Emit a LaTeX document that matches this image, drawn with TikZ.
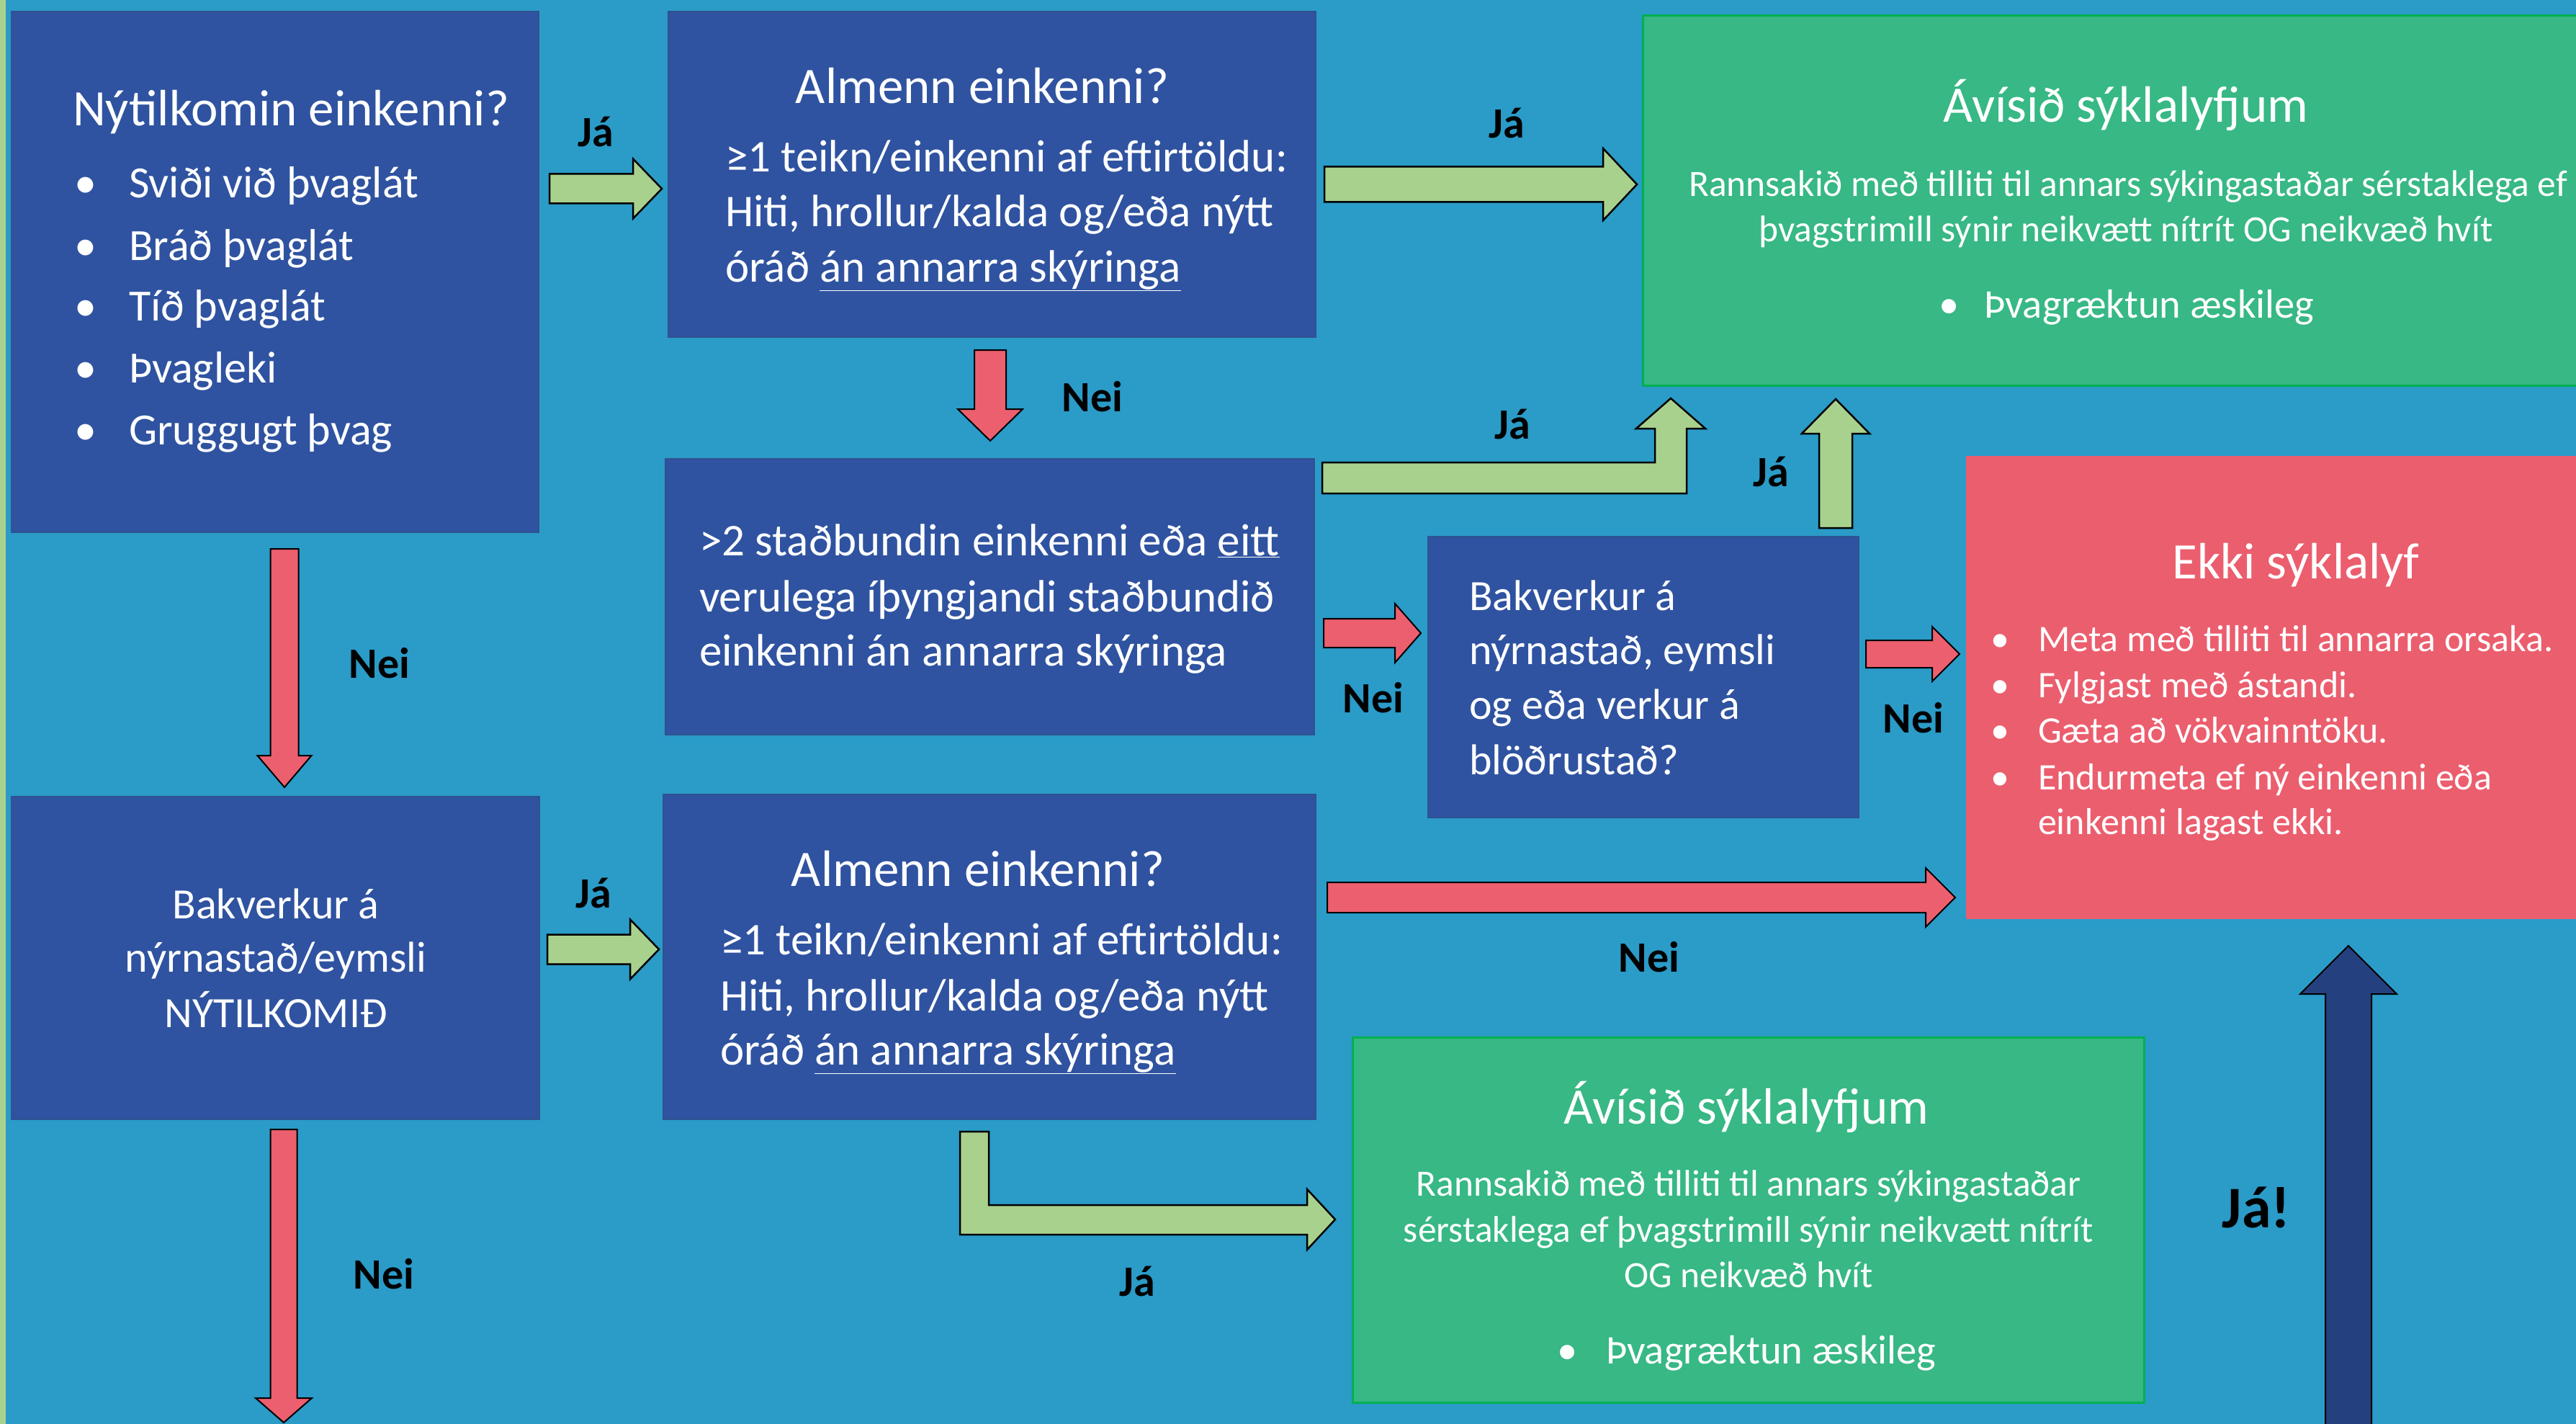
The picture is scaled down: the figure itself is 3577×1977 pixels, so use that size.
\documentclass[tikz,border=0pt]{standalone}
\usepackage{fontspec}
\setmainfont{Carlito}
\usetikzlibrary{calc}
\definecolor{bg}{HTML}{2B9BC8}
\definecolor{strip}{HTML}{A9D18E}
\definecolor{boxblue}{HTML}{2F53A0}
\definecolor{boxedge}{HTML}{2F528F}
\definecolor{gbox}{HTML}{37B884}
\definecolor{gedge}{HTML}{00B050}
\definecolor{rbox}{HTML}{EB5E6E}
\definecolor{larrow}{HTML}{A9D18E}
\definecolor{rarrow}{HTML}{EC5F6F}
\definecolor{navy}{HTML}{24407F}
\tikzset{
  boxbase/.style={anchor=north west, inner sep=0pt, outer sep=0pt},
  bbox/.style={boxbase, fill=boxblue, draw=boxedge, line width=1.5pt},
  gbx/.style={boxbase, fill=gbox, draw=gedge, line width=3pt},
  rbx/.style={boxbase, fill=rbox},
  wt/.style={text=white, inner sep=0pt, outer sep=0pt},
  ttl/.style={wt, anchor=base, font=\fontsize{71}{85}\selectfont},
  fA/.style={wt, anchor=base west, font=\fontsize{62}{74}\selectfont},
  fB/.style={wt, anchor=base west, font=\fontsize{63}{75}\selectfont},
  fD/.style={wt, anchor=base west, font=\fontsize{60}{72}\selectfont},
  fE/.style={wt, anchor=base, font=\fontsize{60}{72}\selectfont},
  fG/.style={wt, anchor=base, font=\fontsize{51.5}{62}\selectfont},
  fGb/.style={wt, anchor=base west, font=\fontsize{56.5}{68}\selectfont},
  fR/.style={wt, anchor=base west, font=\fontsize{52}{62}\selectfont},
  bulA/.style={wt, anchor=base, font=\fontsize{62}{74}\selectfont},
  bulG/.style={wt, anchor=base, font=\fontsize{56.5}{68}\selectfont},
  bulR/.style={wt, anchor=base, font=\fontsize{52}{62}\selectfont},
  lbl/.style={text=black, inner sep=0pt, font=\bfseries\fontsize{60}{72}\selectfont},
  garr/.style={fill=larrow, draw=black, line width=2.5pt, line join=miter},
  rarr/.style={fill=rarrow, draw=black, line width=2pt, line join=miter},
  narr/.style={fill=navy, draw=black, line width=2pt, line join=miter},
}
% horizontal block arrow: style, from, to, shaft half, head half, head length
\newcommand\harr[6]{\draw[#1] let \p1=(#2), \p2=(#3) in
  (\x1,\y1+#4) -- (\x2-#6,\y1+#4) -- (\x2-#6,\y1+#5) -- (\x2,\y1) --
  (\x2-#6,\y1-#5) -- (\x2-#6,\y1-#4) -- (\x1,\y1-#4) -- cycle;}
% downward block arrow
\newcommand\darr[6]{\draw[#1] let \p1=(#2), \p2=(#3) in
  (\x1-#4,\y1) -- (\x1-#4,\y2+#6) -- (\x1-#5,\y2+#6) -- (\x1,\y2) --
  (\x1+#5,\y2+#6) -- (\x1+#4,\y2+#6) -- (\x1+#4,\y1) -- cycle;}
% upward block arrow
\newcommand\uarr[6]{\draw[#1] let \p1=(#2), \p2=(#3) in
  (\x1-#4,\y1) -- (\x1-#4,\y2-#6) -- (\x1-#5,\y2-#6) -- (\x1,\y2) --
  (\x1+#5,\y2-#6) -- (\x1+#4,\y2-#6) -- (\x1+#4,\y1) -- cycle;}
\begin{document}
\begin{tikzpicture}[x=1pt,y=-1pt]
\useasboundingbox (0,0) rectangle (3577,1977);
\clip (0,0) rectangle (3577,1977);
\fill[bg] (0,0) rectangle (3577,1977);
\fill[strip] (0,0) rectangle (8,1977);

% ---------- boxes ----------
\node[bbox, minimum width=732pt, minimum height=723pt] (A) at (16,16) {};
\node[bbox, minimum width=899pt, minimum height=452pt] (B) at (928,16) {};
\node[bbox, minimum width=901pt, minimum height=383pt] (C) at (924,637) {};
\node[bbox, minimum width=598pt, minimum height=390pt] (D) at (1983,745) {};
\node[bbox, minimum width=733pt, minimum height=448pt] (E) at (16,1106) {};
\node[bbox, minimum width=906pt, minimum height=451pt] (F) at (921,1103) {};
\node[gbx, minimum width=1320pt, minimum height=513pt] (G1) at (2281,22) {};
\node[gbx, minimum width=1099pt, minimum height=507pt] (G2) at (1878,1440) {};
\node[rbx, minimum width=870pt, minimum height=643pt] (R) at (2730,633) {};

% ---------- box A ----------
\node[ttl] (At) at (404,175) {Nýtilkomin einkenni?};
\node[bulA] (Ab1) at (119,275) {•}; \node[fA] (A1) at (179,275) {Sviði við þvaglát};
\node[bulA] (Ab2) at (119,361) {•}; \node[fA] (A2) at (179,361) {Bráð þvaglát};
\node[bulA] (Ab3) at (119,445) {•}; \node[fA] (A3) at (179,445) {Tíð þvaglát};
\node[bulA] (Ab4) at (119,531) {•}; \node[fA] (A4) at (179,531) {Þvagleki};
\node[bulA] (Ab5) at (119,617) {•}; \node[fA] (A5) at (179,617) {Gruggugt þvag};

% ---------- box B ----------
\node[ttl] (Bt) at (1364,144) {Almenn einkenni?};
\node[fB] (B1) at (1007,239) {≥1 teikn/einkenni af eftirtöldu:};
\node[fB] (B2) at (1007,315) {Hiti, hrollur/kalda og/eða nýtt};
\node[fB] (B3) at (1007,391) {óráð \underline{án annarra skýringa}};

% ---------- box C ----------
\node[fB] (C1) at (971,771) {>2 staðbundin einkenni eða \underline{eitt}};
\node[fB] (C2) at (971,849) {verulega íþyngjandi staðbundið};
\node[fB] (C3) at (971,924) {einkenni án annarra skýringa};

% ---------- box D ----------
\node[fD] (D1) at (2040,847) {Bakverkur á};
\node[fD] (D2) at (2040,922) {nýrnastað, eymsli};
\node[fD] (D3) at (2040,998) {og eða verkur á};
\node[fD] (D4) at (2040,1075) {blöðrustað?};

% ---------- box E ----------
\node[fE] (E1) at (383,1275) {Bakverkur á};
\node[fE] (E2) at (383,1349) {nýrnastað/eymsli};
\node[fE] (E3) at (383,1426) {NÝTILKOMIÐ};

% ---------- box F ----------
\node[ttl] (Ft) at (1358,1230) {Almenn einkenni?};
\node[fB] (F1) at (1000,1325) {≥1 teikn/einkenni af eftirtöldu:};
\node[fB] (F2) at (1000,1403) {Hiti, hrollur/kalda og/eða nýtt};
\node[fB] (F3) at (1000,1478) {óráð \underline{án annarra skýringa}};

% ---------- box G1 ----------
\node[ttl] (G1t) at (2952,170) {Ávísið sýklalyfjum};
\node[fG] (G11) at (2955,273) {Rannsakið með tilliti til annars sýkingastaðar sérstaklega ef};
\node[fG] (G12) at (2952,336) {þvagstrimill sýnir neikvætt nítrít OG neikvæð hvít};
\node[bulG] (G1b) at (2707,441) {•}; \node[fGb] (G13) at (2755,441) {Þvagræktun æskileg};

% ---------- box G2 ----------
\node[ttl] (G2t) at (2425,1560) {Ávísið sýklalyfjum};
\node[fG] (G21) at (2428,1660) {Rannsakið með tilliti til annars sýkingastaðar};
\node[fG] (G22) at (2428,1724) {sérstaklega ef þvagstrimill sýnir neikvætt nítrít};
\node[fG] (G23) at (2428,1787) {OG neikvæð hvít};
\node[bulG] (G2b) at (2177,1893) {•}; \node[fGb] (G24) at (2230,1893) {Þvagræktun æskileg};

% ---------- box R ----------
\node[ttl] (Rt) at (3188,803) {Ekki sýklalyf};
\node[bulR] (Rb1) at (2777,904) {•}; \node[fR] (R1) at (2830,904) {Meta með tilliti til annarra orsaka.};
\node[bulR] (Rb2) at (2777,968) {•}; \node[fR] (R2) at (2830,968) {Fylgjast með ástandi.};
\node[bulR] (Rb3) at (2777,1031) {•}; \node[fR] (R3) at (2830,1031) {Gæta að vökvainntöku.};
\node[bulR] (Rb4) at (2777,1096) {•}; \node[fR] (R4) at (2830,1096) {Endurmeta ef ný einkenni eða};
\node[fR] (R5) at (2830,1158) {einkenni lagast ekki.};

% ---------- arrow end points ----------
\coordinate (ab0) at (763,262);   \coordinate (ab1) at (919,262);
\coordinate (bg0) at (1839,256);  \coordinate (bg1) at (2273,256);
\coordinate (bc0) at (1375,486);  \coordinate (bc1) at (1375,612);
\coordinate (dg0) at (2549,733);  \coordinate (dg1) at (2549,554);
\coordinate (cd0) at (1838,879);  \coordinate (cd1) at (1973,879);
\coordinate (dr0) at (2591,908);  \coordinate (dr1) at (2721,908);
\coordinate (fr0) at (1843,1246); \coordinate (fr1) at (2715,1246);
\coordinate (ae0) at (395,762);   \coordinate (ae1) at (395,1093);
\coordinate (ef0) at (760,1318);  \coordinate (ef1) at (915,1318);
\coordinate (ed0) at (394,1568);  \coordinate (ed1) at (394,1975);
\coordinate (jr0) at (3261,1995); \coordinate (jr1) at (3261,1313);

% ---------- arrows ----------
\harr{garr}{ab0}{ab1}{20.5}{41.5}{40}
\harr{garr}{bg0}{bg1}{24.5}{50}{47}
\darr{rarr}{bc0}{bc1}{22}{45}{44}
\uarr{garr}{dg0}{dg1}{23}{47}{48}
\harr{rarr}{cd0}{cd1}{20}{41}{36}
\harr{rarr}{dr0}{dr1}{19}{38}{38}
\harr{rarr}{fr0}{fr1}{21}{41}{41}
\darr{rarr}{ae0}{ae1}{19.5}{37.5}{44}
\harr{garr}{ef0}{ef1}{20.5}{41.5}{40}
\darr{rarr}{ed0}{ed1}{18.5}{39}{34}
\uarr{narr}{jr0}{jr1}{32}{67}{67}
% L-shaped arrow C -> G1
\draw[garr] (1836,685) -- (2342,685) -- (2342,595) -- (2368,595) -- (2320,553)
  -- (2272,595) -- (2298,595) -- (2298,642) -- (1836,642) -- cycle;
% L-shaped arrow F -> G2
\draw[garr] (1333,1571) -- (1373,1571) -- (1373,1673) -- (1815,1673) -- (1815,1651)
  -- (1854,1693) -- (1815,1735) -- (1815,1714) -- (1333,1714) -- cycle;

% ---------- labels ----------
\node[lbl] (l1) at (827,183) {Já};
\node[lbl] (l2) at (2092,171) {Já};
\node[lbl] (l3) at (1517,551) {Nei};
\node[lbl] (l4) at (2100,589) {Já};
\node[lbl] (l5) at (2459,655) {Já};
\node[lbl] (l6) at (1907,969) {Nei};
\node[lbl] (l7) at (2657,997) {Nei};
\node[lbl] (l8) at (527,921) {Nei};
\node[lbl] (l9) at (824,1240) {Já};
\node[lbl] (l10) at (2290,1329) {Nei};
\node[lbl] (l11) at (533,1769) {Nei};
\node[lbl] (l12) at (1579,1779) {Já};
\node[lbl, font=\bfseries\fontsize{82}{96}\selectfont] (l13) at (3133,1676) {Já!};
\end{tikzpicture}
\end{document}
